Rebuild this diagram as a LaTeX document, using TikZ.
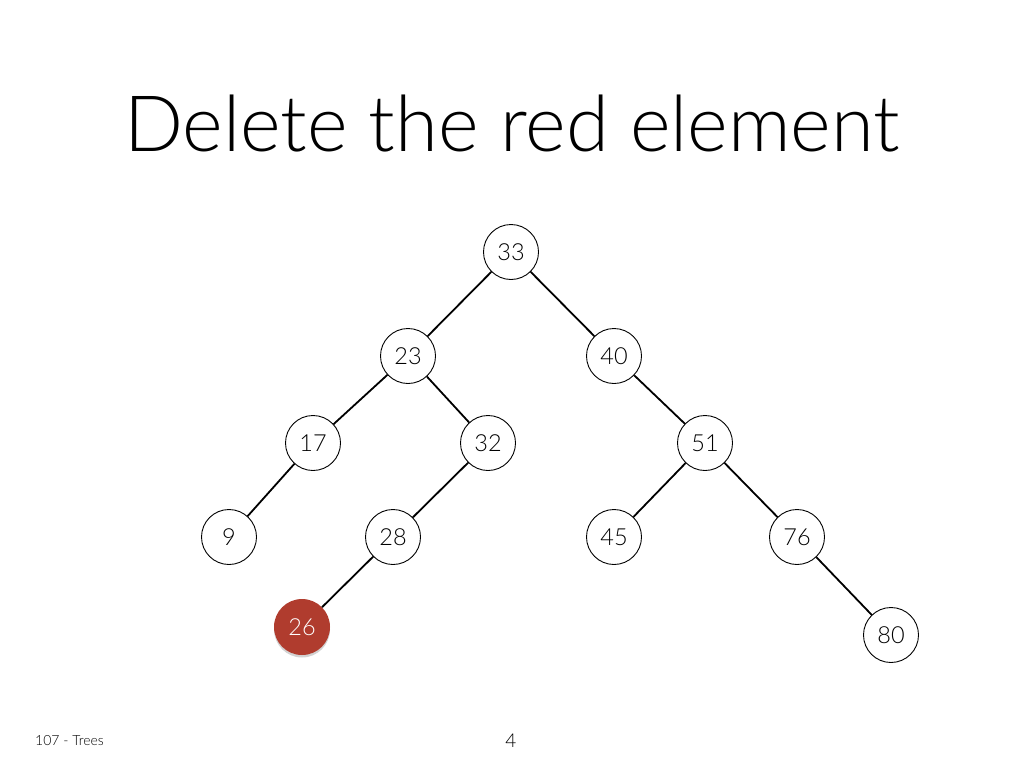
\documentclass[tikz,border=0pt]{standalone}
\usepackage{fontspec}
\usepackage{graphicx}
\setmainfont{Liberation Sans}
\newfontfamily\lightfont{Lato Light}
\usetikzlibrary{shadows}
\definecolor{redel}{HTML}{B03C2E}
\tikzset{
  tnode/.style={circle, draw=black, line width=0.9pt, fill=white, minimum size=55pt, inner sep=0pt, font=\lightfont\fontsize{23.5}{23.5}\selectfont},
  rnode/.style={circle, draw=none, fill=redel, minimum size=56pt, inner sep=0pt, text=white, font=\lightfont\fontsize{23.5}{23.5}\selectfont, drop shadow={opacity=0.35, shadow xshift=0pt, shadow yshift=-2.5pt}},
  edge/.style={draw=black, line width=1.8pt}
}
\begin{document}
\begin{tikzpicture}[x=1pt,y=-1pt]
\useasboundingbox[fill=white] (0,0) rectangle (1024,768);
\node[anchor=base, inner sep=0pt] (title) at (512,151) {\resizebox{776pt}{!}{\lightfont\fontsize{83}{83}\selectfont Delete the red element}};
\node[tnode] (n33) at (511,252) {33};
\node[tnode] (n23) at (408,356) {23};
\node[tnode] (n40) at (614,356) {40};
\node[tnode] (n17) at (313,443) {17};
\node[tnode] (n32) at (488,443) {32};
\node[tnode] (n51) at (705,443) {51};
\node[tnode] (n9) at (229,537) {9};
\node[tnode] (n28) at (393,537) {28};
\node[tnode] (n45) at (614,537) {45};
\node[tnode] (n76) at (797,537) {76};
\node[rnode] (n26) at (302,627) {26};
\node[tnode] (n80) at (891,635) {80};
\draw[edge] (n33) -- (n23);
\draw[edge] (n33) -- (n40);
\draw[edge] (n23) -- (n17);
\draw[edge] (n23) -- (n32);
\draw[edge] (n40) -- (n51);
\draw[edge] (n17) -- (n9);
\draw[edge] (n32) -- (n28);
\draw[edge] (n51) -- (n45);
\draw[edge] (n51) -- (n76);
\draw[edge] (n28) -- (n26);
\draw[edge] (n76) -- (n80);
\node[anchor=base west, inner sep=0pt, font=\lightfont\fontsize{14}{14}\selectfont] (footer) at (35,745) {107 - Trees};
\node[anchor=base, inner sep=0pt, font=\lightfont\fontsize{19}{19}\selectfont] (page) at (511,747) {4};
\end{tikzpicture}
\end{document}
